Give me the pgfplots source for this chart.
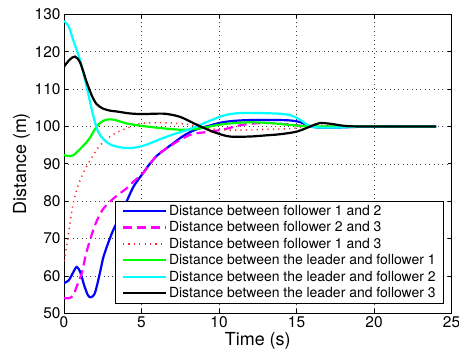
\documentclass[border=0pt]{standalone}
\usepackage{pgfplots}
\pgfplotsset{compat=1.18}
\usepackage{fontspec}
\setmainfont{TeX Gyre Heros}
\definecolor{mblue}{rgb}{0,0,1}
\definecolor{mmag}{rgb}{1,0,1}
\definecolor{mred}{rgb}{1,0.15,0.15}
\definecolor{mgreen}{rgb}{0,1,0}
\definecolor{mcyan}{rgb}{0,1,1}
\begin{document}
\begin{tikzpicture}
\begin{axis}[
  scale only axis, width=387.5bp, height=299bp,
  at={(0,0)}, anchor=south west,
  xmin=0, xmax=25, ymin=50, ymax=130,
  xtick={0,5,...,25}, ytick={50,60,...,130},
  tick align=inside, xtick pos=both, ytick pos=both,
  major tick length=4bp,
  axis line style={line width=0.9bp},
  every tick/.style={black, line width=0.7bp},
  grid=major,
  major grid style={black!75, line width=0.6bp, dash pattern=on 0.8bp off 3.6bp},
  /pgf/number format/assume math mode=true,
  ticklabel style={font=\fontsize{15.5}{18}\selectfont},
  xlabel={Time (s)}, ylabel={Distance (m)},
  label style={font=\fontsize{18}{21}\selectfont},
  xlabel style={yshift=2bp},
  ylabel style={yshift=-2bp},
  legend cell align=left,
  legend style={at={(rel axis cs:0.981,0.376)}, anchor=north east,
    font=\fontsize{14}{16}\selectfont, draw=black, line width=0.9bp,
    row sep=0.7bp, inner xsep=6bp, inner ysep=2bp},
  legend image code/.code={\draw[#1] (0bp,0bp) -- (43bp,0bp);},
]
\addplot[mblue, line width=2.2bp, smooth, tension=0.5] coordinates {
(0,58.1) (0.3,58.8) (0.6,61.0) (0.82,62.4) (1.05,61.0) (1.3,57.5) (1.55,54.8) (1.75,54.3)
(2.0,55.5) (2.3,60.5) (2.54,65.0) (2.85,68.8) (3.18,72.3) (3.5,75.0) (3.83,77.7) (4.05,80.0)
(4.5,84.0) (5.1,87.5) (5.5,89.8) (6.0,92.2) (6.5,93.8) (7.05,95.5) (7.6,97.2) (8.1,98.4)
(8.6,99.3) (9.2,100.0) (10.1,101.0) (11.0,101.5) (12.0,101.7) (13.0,101.7) (14.0,101.7)
(14.6,101.6) (15.2,101.2) (15.6,100.5) (16.0,99.9) (16.5,99.7) (17.5,99.7) (19,99.9) (20,100) (24,100)};
\addlegendentry{Distance between follower 1 and 2}
\addplot[mmag, line width=2.2bp, dash pattern=on 9bp off 5bp, smooth, tension=0.5] coordinates {
(0,54.1) (0.3,54.0) (0.6,54.8) (0.82,57.2) (1.14,60.7) (1.46,66.5) (1.89,72.3) (2.2,75.5)
(2.54,78.0) (3.0,80.0) (3.57,82.0) (4.0,83.3) (4.5,85.3) (5.1,87.5) (6.0,92.2) (7.05,95.3)
(8.1,97.7) (8.6,98.2) (9.4,98.6) (10.3,99.2) (11.35,100.3) (12.3,100.8) (13.3,100.9)
(14.6,100.5) (15.5,100.1) (16.5,99.9) (18,100) (24,100)};
\addlegendentry{Distance between follower 2 and 3}
\addplot[mred, line width=1.5bp, dash pattern=on 1.2bp off 4.2bp, smooth, tension=0.5] coordinates {
(0,64.0) (0.17,67.9) (0.39,74.1) (0.6,79.5) (0.82,83.0) (1.03,85.5) (1.46,89.3) (2.1,93.7)
(2.5,95.7) (2.97,97.3) (3.5,98.6) (4.05,99.5) (4.6,100.4) (5.1,100.9) (6.2,101.0) (7.05,100.9)
(7.9,100.6) (8.8,100.0) (9.5,99.4) (10.1,99.1) (11,99.0) (12,99.1) (13,99.2) (14.6,99.4)
(15.4,99.9) (15.9,100.3) (16.5,100.3) (17.5,100.1) (19,100) (24,100)};
\addlegendentry{Distance between follower 1 and 3}
\addplot[mgreen, line width=2.2bp, smooth, tension=0.5] coordinates {
(0,92.3) (0.3,92.1) (0.6,92.3) (1.0,93.8) (1.46,95.8) (1.68,97.0) (2.0,99.3) (2.32,100.9)
(2.65,101.7) (2.97,101.9) (3.4,101.6) (4.05,100.8) (5.1,100.1) (6.6,99.4) (7.7,99.1)
(8.8,99.5) (9.8,100.3) (10.7,100.8) (12,101.1) (13.3,100.9) (14.6,100.4) (15.5,100.1)
(17,100) (24,100)};
\addlegendentry{Distance between the leader and follower 1}
\addplot[mcyan, line width=2.2bp, smooth, tension=0.5] coordinates {
(0,128.2) (0.3,126.8) (0.6,123.0) (1.03,117.8) (1.46,110.6) (1.89,102.8) (2.2,98.6)
(2.54,96.6) (2.97,95.2) (3.5,94.5) (4.2,94.2) (4.9,94.6) (5.5,95.4) (6.2,96.6) (7.0,97.8)
(8.13,99.3) (9.0,100.8) (10.0,102.5) (10.7,103.3) (11.5,103.6) (12.5,103.6) (13.9,103.4)
(14.6,103.0) (15.2,101.9) (15.6,100.7) (15.9,100.0) (16.5,99.7) (17.5,99.7) (19,99.9) (24,100)};
\addlegendentry{Distance between the leader and follower 2}
\addplot[black, line width=2.2bp, smooth, tension=0.5] coordinates {
(0,116.0) (0.35,117.8) (0.71,118.7) (1.05,117.0) (1.46,111.9) (1.8,108.2) (2.1,106.0)
(2.5,104.8) (3.0,104.2) (3.4,104.0) (4.2,103.5) (5.0,103.3) (5.8,103.4) (6.5,103.4)
(7.2,102.9) (7.7,102.2) (8.8,100.0) (9.8,98.3) (10.7,97.3) (12,97.3) (13.0,97.6) (13.9,97.9)
(15,98.6) (15.9,100.0) (16.5,100.9) (17.2,100.7) (18,100.2) (19,100) (24,100)};
\addlegendentry{Distance between the leader and follower 3}
\end{axis}
\pgfresetboundingbox
\path[use as bounding box] (-64bp,-47.7bp) rectangle (395bp,313.3bp);
\end{tikzpicture}
\end{document}
